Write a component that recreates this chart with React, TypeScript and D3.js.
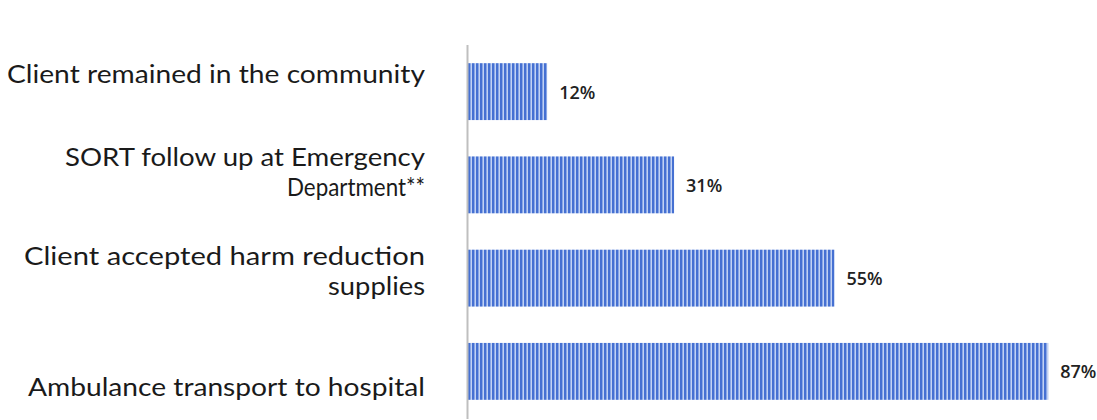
import React from "react";
import * as d3 from "d3";

const categories: string[][] = [
  ["Client remained in the community"],
  ["SORT follow up at Emergency", "Department**"],
  ["Client accepted harm reduction", "supplies"],
  ["Ambulance transport to hospital"],
];
const values: number[] = [0.12, 0.31, 0.55, 0.87];
const valueLabels: string[] = ["12%", "31%", "55%", "87%"];

// layout constants (not data)
const W = 1097;
const H = 420;
const labelRight = 425;
const labelLineWidths = [[418], [360, 138], [401, 97], [397]];
const labelCenterOffset = [-17, -12, -6, 17];
const lineGap = 30;

export default function App() {
  const x = d3.scaleLinear().domain([0, 1]).range([467, 1135]);
  const y = d3
    .scaleBand<number>()
    .domain(d3.range(values.length))
    .range([45, 418])
    .paddingInner(0.39)
    .paddingOuter(0.195);

  return (
    <div style={{ position: "fixed", left: 0, top: 0 }}>
      <svg width={W} height={H} style={{ display: "block", background: "#fff" }}>
        <defs>
          <pattern id="stripes" patternUnits="userSpaceOnUse" x={468} width={4} height={10}>
            <rect x={0} y={0} width={4} height={10} fill="#4570d2" />
            <rect x={2} y={0} width={1} height={10} fill="#8aa7e6" />
            <rect x={3} y={0} width={1} height={10} fill="#c2d2f3" />
          </pattern>
        </defs>
        {values.map((v, i) => (
          <rect
            key={"b" + i}
            x={x(0)}
            y={y(i)!}
            width={x(v) - x(0)}
            height={y.bandwidth()}
            fill="url(#stripes)"
          />
        ))}
        <line x1={467.5} x2={467.5} y1={45} y2={419} stroke="#bfbfbf" strokeWidth={2} />
        {values.map((v, i) => (
          <text
            key={"v" + i}
            x={x(v) + 12}
            y={y(i)! + y.bandwidth() / 2 + 7}
            fontFamily="'Open Sans', sans-serif"
            fontWeight={600}
            fontSize={18}
            fill="#222"
          >
            {valueLabels[i]}
          </text>
        ))}
        {categories.map((lines, i) => {
          const center = y(i)! + y.bandwidth() / 2 + labelCenterOffset[i];
          const n = lines.length;
          return lines.map((ln, j) => (
            <text
              key={"c" + i + "-" + j}
              x={labelRight}
              y={center + (j - (n - 1) / 2) * lineGap + 8}
              textAnchor="end"
              fontFamily="Lato, sans-serif"
              fontSize={25}
              fill="#1a1a1a"
              textLength={labelLineWidths[i][j]}
              lengthAdjust="spacingAndGlyphs"
            >
              {ln}
            </text>
          ));
        })}
      </svg>
    </div>
  );
}
